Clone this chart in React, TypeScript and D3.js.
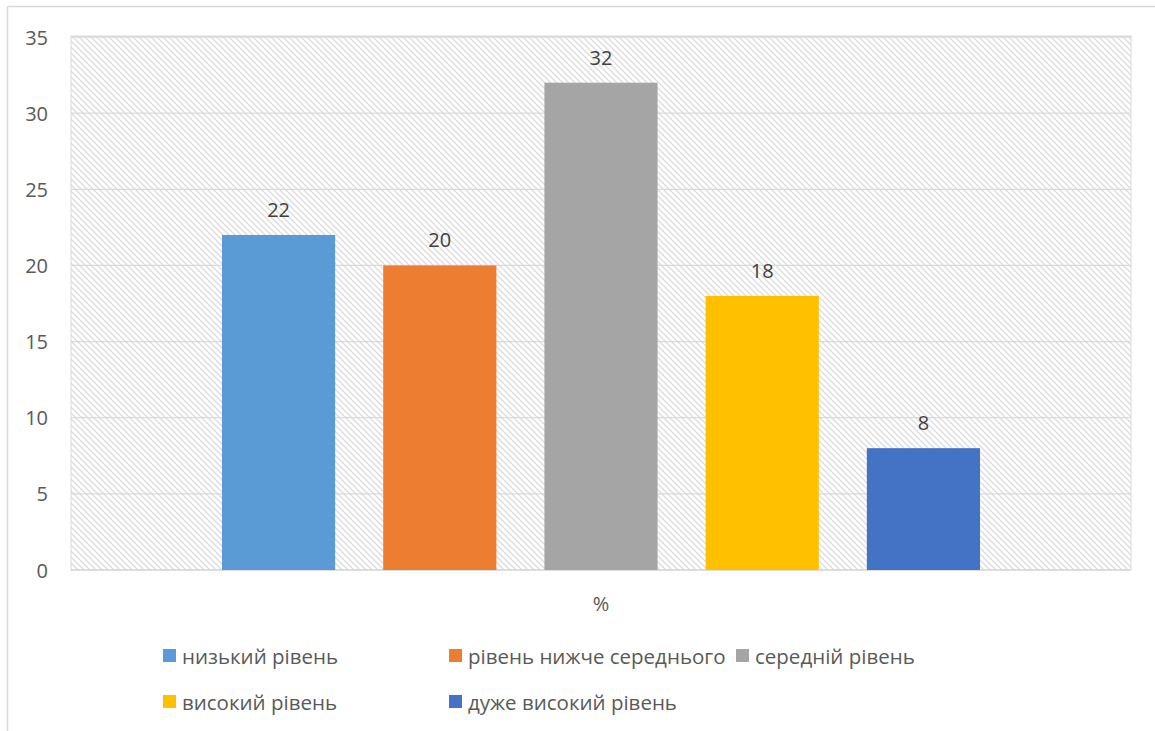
import React from "react";
import * as d3 from "d3";

const categories = ["%"];
const seriesNames = [
  "низький рівень",
  "рівень нижче середнього",
  "середній рівень",
  "високий рівень",
  "дуже високий рівень",
];
const seriesValues = [22, 20, 32, 18, 8];
const seriesColors = ["#5b9bd5", "#ed7d31", "#a5a5a5", "#ffc000", "#4472c4"];
const yTicks = [0, 5, 10, 15, 20, 25, 30, 35];

const W = 1155;
const H = 731;
const plot = { left: 71, right: 1131, top: 37, bottom: 570 };
const FONT = "'Open Sans', 'Noto Sans', sans-serif";
const FS = 20;

export default function App() {
  const y = d3.scaleLinear().domain([0, 35]).range([plot.bottom, plot.top]);
  const x0 = d3
    .scaleBand()
    .domain(categories)
    .range([plot.left, plot.right])
    .paddingInner(0)
    .paddingOuter(0.1992);
  const groupStart = x0(categories[0])!;
  const x1 = d3
    .scaleBand()
    .domain(seriesNames)
    .range([groupStart, groupStart + x0.bandwidth()])
    .paddingInner(0.298)
    .paddingOuter(0);

  const legendPos = [
    { x: 163, y: 649 },
    { x: 449, y: 649 },
    { x: 736, y: 649 },
    { x: 163, y: 695 },
    { x: 449, y: 695 },
  ];

  return (
    <svg
      width={W}
      height={H}
      style={{ position: "absolute", left: 0, top: 0, background: "#fff" }}
      fontFamily={FONT}
    >
      <defs>
        <pattern id="hatch" width="6" height="6" patternUnits="userSpaceOnUse">
          <rect width="6" height="6" fill="#ffffff" />
          <path d="M0,0 L6,6 M-1,5 L1,7 M5,-1 L7,1" stroke="#dcdcdc" strokeWidth="1.3" />
        </pattern>
      </defs>
      {/* outer frame */}
      <line x1={7.5} y1={6.5} x2={W} y2={6.5} stroke="#d9d9d9" strokeWidth={1.5} />
      <line x1={7.5} y1={6.5} x2={7.5} y2={H} stroke="#d9d9d9" strokeWidth={1.5} />

      {/* plot area */}
      <rect
        x={plot.left}
        y={plot.top - 1}
        width={plot.right - plot.left}
        height={plot.bottom - plot.top + 1}
        fill="url(#hatch)"
        stroke="#d9d9d9"
        strokeWidth={1}
      />
      {yTicks.map((t) => (
        <g key={t}>
          <line
            x1={plot.left}
            x2={plot.right}
            y1={y(t)}
            y2={y(t)}
            stroke="#d9d9d9"
            strokeWidth={1.3}
          />
          <text
            x={48}
            y={y(t)}
            textAnchor="end"
            dominantBaseline="central"
            fontSize={FS}
            fill="#595959"
          >
            {t}
          </text>
        </g>
      ))}

      {/* bars */}
      {seriesNames.map((s, i) => {
        const bx = x1(s)!;
        const by = y(seriesValues[i]);
        return (
          <g key={s}>
            <rect
              x={bx}
              y={by}
              width={x1.bandwidth()}
              height={y(0) - by}
              fill={seriesColors[i]}
            />
            <text
              x={bx + x1.bandwidth() / 2}
              y={by - 18}
              textAnchor="middle"
              fontSize={FS}
              fill="#404040"
            >
              {seriesValues[i]}
            </text>
          </g>
        );
      })}

      {/* category label */}
      <text
        x={x0(categories[0])! + x0.bandwidth() / 2}
        y={603}
        textAnchor="middle"
        dominantBaseline="central"
        fontSize={FS}
        fill="#595959"
      >
        {categories[0]}
      </text>

      {/* legend */}
      {seriesNames.map((s, i) => (
        <g key={s} transform={`translate(${legendPos[i].x},${legendPos[i].y})`}>
          <rect width={13} height={13} fill={seriesColors[i]} />
          <text x={19} y={7} dominantBaseline="central" fontSize={20.5} fill="#595959">
            {s}
          </text>
        </g>
      ))}
    </svg>
  );
}
